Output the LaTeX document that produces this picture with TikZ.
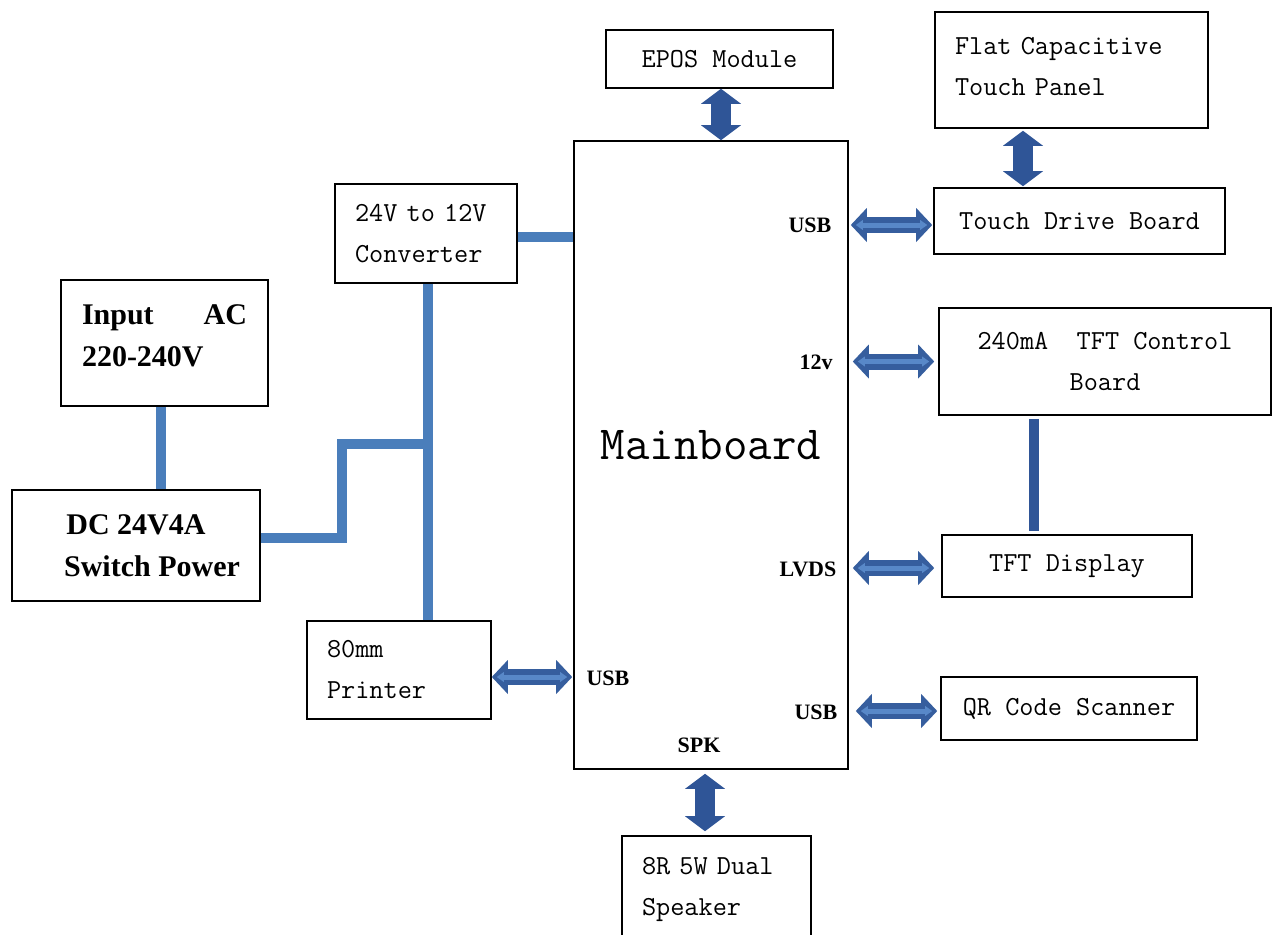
\documentclass[tikz,border=0pt]{standalone}
\usepackage{fontspec}
\setmonofont{Latin Modern Mono}[WordSpace={1,0,0}]
\newfontfamily\tagfont{Liberation Serif}
\usetikzlibrary{arrows.meta, positioning}
\tikzset{>=latex}
\definecolor{wirecol}{RGB}{74,126,187}
\definecolor{darkwire}{RGB}{47,85,151}
\definecolor{vfill}{RGB}{47,85,151}
\definecolor{hfill}{RGB}{54,94,158}
\definecolor{hstripe}{RGB}{88,136,200}
\def\wirewidth{10.5pt}
\def\monosize{\fontsize{27.5}{41}\selectfont\ttfamily}
\def\boldsize{\fontsize{30}{42}\selectfont\tagfont\bfseries}
\tikzset{
  unit/.style={draw, line width=1.6pt, inner ysep=0pt, font=\monosize},
  leftbox/.style={align=left, inner xsep=20pt},
  boldbox/.style={unit, align=center, font=\boldsize},
  port/.style={inner sep=0pt, font=\fontsize{22}{26}\selectfont\tagfont\bfseries},
  wire/.style={draw=wirecol, line width=\wirewidth, line join=miter},
  varrow/.style={draw=vfill, line width=20pt,
    {Triangle[length=15pt,width=40pt,line width=0pt]}-{Triangle[length=15pt,width=40pt,line width=0pt]}},
  harrow/.style={draw=hfill, line width=16pt,
    {Triangle[length=16pt,width=34pt,line width=0pt]}-{Triangle[length=16pt,width=34pt,line width=0pt]}},
  hstripe/.style={draw=hstripe, line width=5pt,
    {Triangle[length=7pt,width=10pt,line width=0pt]}-{Triangle[length=7pt,width=10pt,line width=0pt]}}
}

\begin{document}
\begin{tikzpicture}[x=1pt, y=-1pt]

\useasboundingbox (0,0) rectangle (1278,935);

% Mainboard
\node[unit, minimum width=274pt, minimum height=628pt] (main) at (711,455) {};
\node[font=\fontsize{47.5}{50}\selectfont\ttfamily] (mainname) at (711,445) {Mainboard};

% right side units
\node[unit, minimum width=227pt, minimum height=58pt] (epos) at (719.5,59) {EPOS Module};
\node[unit, leftbox, text width=233pt, minimum height=116pt] (panel) at (1071.5,70) {Flat Capacitive\\Touch Panel\\[-33pt]\mbox{}};
\node[unit, minimum width=291pt, minimum height=66pt] (touchdrv) at (1079.5,221) {Touch Drive Board};
\node[unit, align=center, minimum width=332pt, minimum height=107pt] (tftctrl) at (1105,361.5) {240mA\ \ TFT Control\\Board};
\node[unit, minimum width=250pt, minimum height=62pt] (tftdisp) at (1067,566) {TFT Display};
\node[unit, minimum width=256pt, minimum height=63pt] (qr) at (1069,708.5) {QR Code Scanner};

% left side units
\node[unit, leftbox, text width=142pt, minimum height=99pt] (conv) at (426,233.5) {24V to 12V\\Converter};
\node[boldbox, minimum width=207pt, minimum height=126pt, text depth=14pt] (acin) at (164.5,343) {\hbox to 165pt{Input\hfill AC}\\\hbox to 165pt{220-240V\hfill}};
\node[boldbox, minimum width=248pt, minimum height=111pt] (dcpow) at (136,545.5) {DC 24V4A\\\hspace*{32pt}Switch Power};
\node[unit, leftbox, text width=144pt, minimum height=98pt] (printer) at (399,670) {80mm\\Printer};
\node[unit, leftbox, text width=149pt, minimum height=107pt] (speaker) at (716.5,889.5) {8R 5W Dual\\Speaker};

% port names on the mainboard
\node[port] (usbtouch) at (810,225) {USB};
\node[port] (v12) at (816,362) {12v};
\node[port] (lvds) at (808,569) {LVDS};
\node[port] (usbqr) at (816,712) {USB};
\node[port] (usbprn) at (608,678) {USB};
\node[port] (spk) at (699,745) {SPK};

% power wiring
\coordinate (tee) at (428,444);
\coordinate (kink) at (342,444);
\coordinate (ctrlx) at (1034,0);

\draw[wire] ([yshift=-3.5pt]conv.east) -- ([yshift=-3.5pt]conv.east -| main.west);
\draw[wire] (tee |- conv.south) -- (tee |- printer.north);
\draw[wire] ([xshift=-3.5pt]acin.south) -- ([xshift=-3.5pt]acin.south |- dcpow.north);
\draw[wire] ([yshift=7.5pt]dcpow.east) -| (kink) -- (tee);
\draw[wire, draw=darkwire, shorten <=3pt, shorten >=3pt] (ctrlx |- tftctrl.south) -- (ctrlx |- tftdisp.north);

% vertical arrows
\coordinate (touchx) at (1023,0);
\coordinate (spkx) at (705,0);
\draw[varrow] ([xshift=1.5pt]epos.south) -- ([xshift=1.5pt]epos.south |- main.north);
\draw[varrow, shorten <=2pt, shorten >=1pt] (touchx |- panel.south) -- (touchx |- touchdrv.north);
\draw[varrow, shorten <=4pt, shorten >=4pt] (spkx |- main.south) -- (spkx |- speaker.north);

% horizontal arrows, mainboard to the right side
\foreach \to/\dy/\sa/\sb in {touchdrv/-4/2/1, tftctrl/0/4/4, tftdisp/-2/4/7, qr/-2.5/7/3}{
  \draw[harrow, shorten <=\sa pt, shorten >=\sb pt] ([yshift=\dy pt]main.east |- \to.west) -- ([yshift=\dy pt]\to.west);
  \draw[hstripe, shorten <=\sa pt+5pt, shorten >=\sb pt+5pt] ([yshift=\dy pt]main.east |- \to.west) -- ([yshift=\dy pt]\to.west);
}
% printer
\draw[harrow, shorten >=1pt] ([yshift=-7pt]printer.east) -- ([yshift=-7pt]printer.east -| main.west);
\draw[hstripe, shorten <=5pt, shorten >=6pt] ([yshift=-7pt]printer.east) -- ([yshift=-7pt]printer.east -| main.west);

\end{tikzpicture}
\end{document}
